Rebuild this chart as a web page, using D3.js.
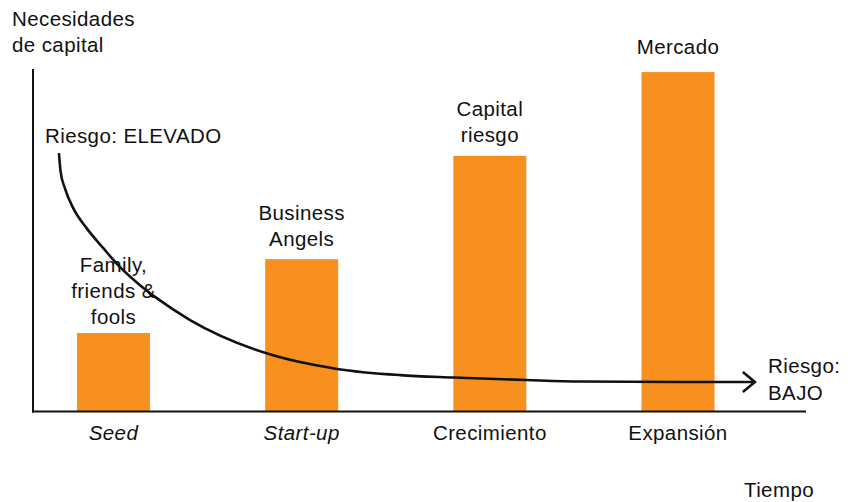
<!DOCTYPE html>
<html>
<head>
<meta charset="utf-8">
<script src="https://cdn.jsdelivr.net/npm/d3@7"></script>
<style>
  html, body { margin: 0; padding: 0; background: #fff; }
  svg text { font-family: "Liberation Sans", Arial, Helvetica, sans-serif; font-size: 20.5px; letter-spacing: 0.4px; fill: #111; }
</style>
</head>
<body>
<div id="chart"></div>
<script>
// stages of funding
var categories = ["Seed", "Start-up", "Crecimiento", "Expansión"];
var needs = [22.8, 44.4, 74.6, 99.1];
var stageLabels = [["Family,", "friends &", "fools"], ["Business", "Angels"], ["Capital", "riesgo"], ["Mercado"]];

// risk curve, in stage units (x) and value units (y)
var riskT = [0.210, 0.219, 0.242, 0.286, 0.358, 0.446, 0.517, 0.641, 0.730, 0.907, 1.305, 1.688, 2.022, 2.304, 2.692, 2.979, 3.51, 3.908];
var riskV = [75.4, 70.0, 65.1, 59.3, 53.4, 47.6, 43.1, 36.8, 33.0, 26.6, 17.0, 12.3, 10.5, 9.8, 9.06, 8.63, 8.48, 8.48];

var W = 854, H = 502;
var barW = 73;
var labelGap = [9, 13, 14, 18];
var italicCats = ["Seed", "Start-up"];
var orange = "#F7901E";

var svg = d3.select("#chart").append("svg")
    .attr("width", W)
    .attr("height", H);

var y = d3.scaleLinear().domain([0, 100]).range([411, 69]);
var x = d3.scalePoint().domain(categories).range([113.5, 678]);
var t = d3.scaleLinear().domain([0, 4]).range([19.4, 772.2]);

// bars
svg.selectAll("rect.bar")
    .data(categories)
    .enter().append("rect")
    .attr("class", "bar")
    .attr("x", function(d) { return x(d) - barW / 2; })
    .attr("width", barW)
    .attr("y", function(d, i) { return y(needs[i]); })
    .attr("height", function(d, i) { return y(0) - y(needs[i]); })
    .attr("fill", orange);

// labels above the bars
categories.forEach(function(c, i) {
    var lines = stageLabels[i];
    var base = y(needs[i]) - labelGap[i];
    var txt = svg.append("text").attr("text-anchor", "middle");
    lines.forEach(function(l, j) {
        txt.append("tspan")
            .attr("x", x(c))
            .attr("y", base - (lines.length - 1 - j) * 26)
            .text(l);
    });
});

// category labels
svg.selectAll("text.cat")
    .data(categories)
    .enter().append("text")
    .attr("class", "cat")
    .attr("x", function(d) { return x(d); })
    .attr("y", 439.5)
    .attr("text-anchor", "middle")
    .style("font-style", function(d) { return italicCats.indexOf(d) >= 0 ? "italic" : "normal"; })
    .text(function(d) { return d; });

// axes
svg.append("line")
    .attr("x1", 33).attr("x2", 33)
    .attr("y1", 69).attr("y2", 412.5)
    .attr("stroke", "#111").attr("stroke-width", 2);
svg.append("line")
    .attr("x1", 32).attr("x2", 806)
    .attr("y1", 411.5).attr("y2", 411.5)
    .attr("stroke", "#111").attr("stroke-width", 2);

// arrow head
svg.append("defs").append("marker")
    .attr("id", "arrow")
    .attr("markerUnits", "userSpaceOnUse")
    .attr("viewBox", "0 0 16 24")
    .attr("markerWidth", 16).attr("markerHeight", 24)
    .attr("refX", 13.5).attr("refY", 12)
    .attr("orient", "auto")
    .append("path")
    .attr("d", "M1.5,2 L13.5,12 L1.5,22")
    .attr("fill", "none")
    .attr("stroke", "#111")
    .attr("stroke-width", 2.6);

var riskLine = d3.line()
    .x(function(d) { return t(d[0]); })
    .y(function(d) { return y(d[1]); })
    .curve(d3.curveMonotoneX);

svg.append("path")
    .datum(riskT.map(function(v, i) { return [v, riskV[i]]; }))
    .attr("d", riskLine)
    .attr("fill", "none")
    .attr("stroke", "#111")
    .attr("stroke-width", 2.6)
    .attr("marker-end", "url(#arrow)");

// titles and notes
var ytitle = svg.append("text").attr("x", 12);
ytitle.append("tspan").attr("x", 12).attr("y", 26).text("Necesidades");
ytitle.append("tspan").attr("x", 12).attr("y", 52).text("de capital");

svg.append("text").attr("x", 45).attr("y", 143).text("Riesgo: ELEVADO");

var low = svg.append("text");
low.append("tspan").attr("x", 768).attr("y", 373).text("Riesgo:");
low.append("tspan").attr("x", 768).attr("y", 400).text("BAJO");

svg.append("text").attr("x", 744).attr("y", 497).text("Tiempo");
</script>
</body>
</html>
